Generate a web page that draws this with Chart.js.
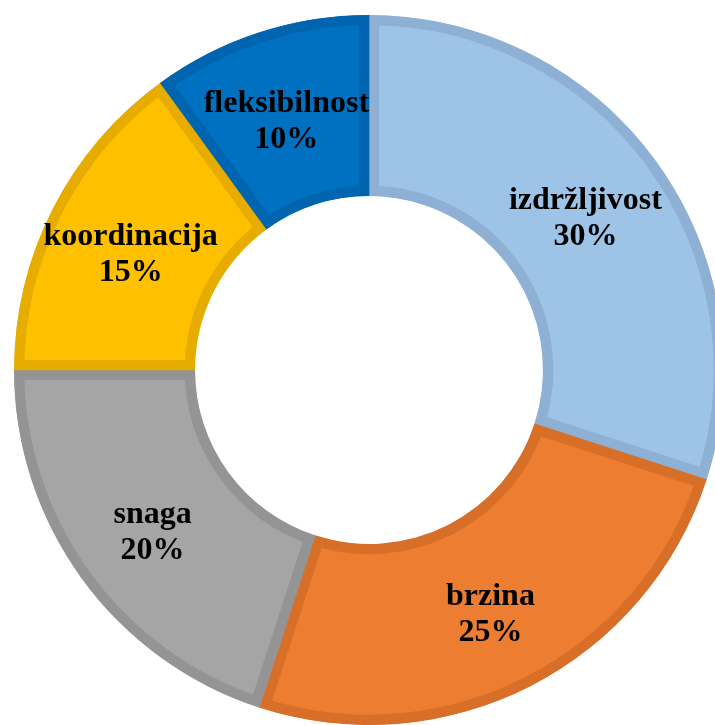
<!DOCTYPE html>
<html><head><meta charset="utf-8">
<script src="https://cdn.jsdelivr.net/npm/chart.js@4/dist/chart.umd.min.js"></script>
<style>html,body{margin:0;padding:0;background:#fff;overflow:hidden;width:715px;height:725px}
#c{position:absolute;left:0;top:0}</style>
</head><body>
<canvas id="c" width="738" height="740"></canvas>
<script>
const categories = ["izdržljivost", "brzina", "snaga", "koordinacija", "fleksibilnost"];
const values = [30, 25, 20, 15, 10];
const fillColors = ["#9DC3E6", "#ED7D31", "#A5A5A5", "#FFC000", "#0070C0"];
const borderColors = ["#8DB0D4", "#D86F29", "#949494", "#E6AC00", "#0065AE"];

const labelPlugin = {
  id: 'labels',
  afterDatasetsDraw(chart) {
    const ctx = chart.ctx;
    const meta = chart.getDatasetMeta(0);
    const total = values.reduce((a, b) => a + b, 0);
    ctx.save();
    ctx.fillStyle = '#000';
    ctx.font = 'bold 32px "Liberation Serif", "Times New Roman", serif';
    ctx.textAlign = 'center';
    ctx.textBaseline = 'middle';
    meta.data.forEach((arc, i) => {
      const p = arc.getProps(['x', 'y', 'startAngle', 'endAngle', 'innerRadius', 'outerRadius'], true);
      const a = (p.startAngle + p.endAngle) / 2;
      const r = (p.innerRadius + p.outerRadius) / 2 + 3;
      const x = p.x + Math.cos(a) * r;
      const y = p.y + Math.sin(a) * r + 6;
      const pct = Math.round(values[i] / total * 100) + '%';
      ctx.fillText(categories[i], x, y - 18);
      ctx.fillText(pct, x, y + 18);
    });
    ctx.restore();
  }
};

new Chart(document.getElementById('c'), {
  type: 'doughnut',
  data: {
    labels: categories,
    datasets: [{
      data: values,
      backgroundColor: fillColors,
      borderColor: borderColors,
      borderWidth: 10,
      borderAlign: 'inner'
    }]
  },
  options: {
    responsive: false,
    animation: false,
    cutout: '49%',
    layout: { padding: { left: 14, right: 14, top: 15, bottom: 15 } },
    plugins: { legend: { display: false }, tooltip: { enabled: false } }
  },
  plugins: [labelPlugin]
});
</script>
</body></html>
